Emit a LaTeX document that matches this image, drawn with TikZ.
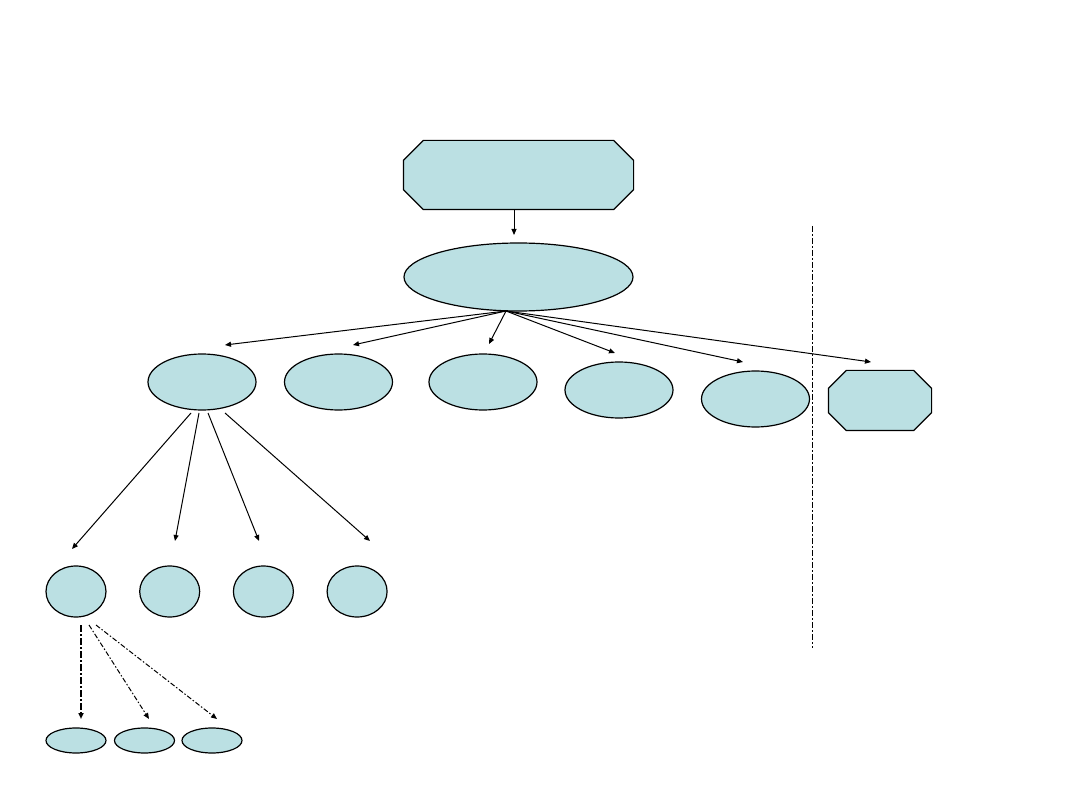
\documentclass[tikz,border=0pt]{standalone}
\usetikzlibrary{shapes.geometric,arrows.meta}
\definecolor{paleteal}{RGB}{187,224,227}
\begin{document}
\begin{tikzpicture}[x=1pt, y=-1pt, line width=1.2pt,
    blob/.style={ellipse, draw, fill=paleteal, inner sep=0pt},
    octbox/.style={rectangle, inner sep=0pt},
    arr/.style={-{Triangle[length=6pt,width=5pt]}, line width=1pt},
    dotarr/.style={arr, dash pattern=on 5pt off 2pt on 1.5pt off 2pt}]
    \useasboundingbox (0, 0) rectangle (1080, 810);
    \node[octbox, minimum width = 229, minimum height = 68] (root) at (518.5, 175) {};
    \node[blob, minimum width = 229, minimum height = 68] (hub) at (518.5, 277) {};
    \coordinate (hubtip) at (514, 235);
    \draw[arr] (root.south -| hubtip) -- (hubtip);
    % second row
    \foreach \v/\x/\y in {e1/202/382, e2/338.5/382, e3/483/382, e4/619/390, e5/755.5/399}{
        \node[blob, minimum width = 108, minimum height = 56] (\v) at (\x, \y) {};
    }
    \node[octbox, minimum width = 102, minimum height = 59] (side) at (880, 400.5) {};
    % cut corners of the two boxes
    \foreach \b/\c in {root/20pt, side/18pt}{
        \draw[fill = paleteal] ([xshift = \c]\b.north west) -- ([xshift = -\c]\b.north east)
            -- ([yshift = -\c]\b.north east) -- ([yshift = \c]\b.south east)
            -- ([xshift = -\c]\b.south east) -- ([xshift = \c]\b.south west)
            -- ([yshift = \c]\b.south west) -- ([yshift = -\c]\b.north west) -- cycle;
    }
    \coordinate (hubfoot) at (506, 311);
    \foreach \t/\x/\y in {t1/225/345, t2/353/345, t3/489/344, t4/615/353, t5/743/362, t6/871/362}{
        \coordinate (\t) at (\x, \y);
        \draw[arr] (hubfoot) -- (\t);
    }
    % divider
    \coordinate (divtop) at (812, 226);
    \coordinate (divbot) at (812, 648);
    \draw[line width = 1pt, dash pattern = on 6pt off 2pt on 2pt off 2pt] (divtop) -- (divbot);
    % third row
    \foreach \v [count = \i from 0] in {c1, c2, c3, c4}{
        \node[blob, minimum width = 60, minimum height = 51] (\v) at (76 + 93.7*\i, 591.5) {};
    }
    \foreach \s/\t/\sx/\tx/\ty in {f1/u1/191/72/549, f2/u2/199/175/541, f3/u3/208/259/541, f4/u4/225/370/541}{
        \coordinate (\s) at (\sx, 413);
        \coordinate (\t) at (\tx, \ty);
        \draw[arr] (\s) -- (\t);
    }
    % fourth row
    \foreach \v/\x in {s1/76, s2/144.5, s3/212}{
        \node[blob, minimum width = 60, minimum height = 25] (\v) at (\x, 740.5) {};
    }
    \foreach \s/\t/\sx/\tx in {g1/w1/81/81, g2/w2/89/149, g3/w3/96/217}{
        \coordinate (\s) at (\sx, 625);
        \coordinate (\t) at (\tx, 719);
    }
    \draw[dotarr, line width = 1.5pt, dash pattern = on 7pt off 2pt on 2pt off 2pt] (g1) -- (w1);
    \draw[dotarr] (g2) -- (w2);
    \draw[dotarr] (g3) -- (w3);
\end{tikzpicture}
\end{document}
